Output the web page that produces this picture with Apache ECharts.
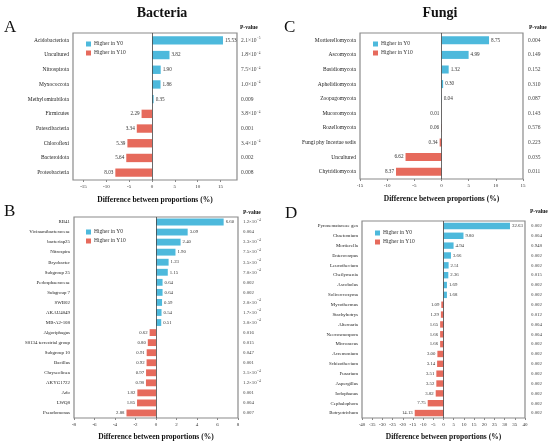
<!DOCTYPE html>
<html><head><meta charset="utf-8">
<script src="https://cdn.jsdelivr.net/npm/echarts@6/dist/echarts.min.js"></script>
<style>html,body{margin:0;padding:0;background:#fff}#c{width:550px;height:443px}</style>
</head><body><div id="c"></div>
<script>
// ---- Data ----
const aCats = ['Acidobacteriota','Uncultured','Nitrospirota','Myxococcota','Methylomirabilota','Firmicutes','Patescibacteria','Chloroflexi','Bacteroidota','Proteobacteria'];
const aVals = [15.53, 3.82, 1.90, 1.86, 0.35, -2.29, -3.34, -5.39, -5.64, -8.03];
const aP = ['2.1×10^-5','1.8×10^-4','7.5×10^-4','1.0×10^-4','0.009','3.8×10^-4','0.001','3.4×10^-4','0.002','0.008'];

const bCats = ['RB41','Vicinamibacteraceae','bacteriap25','Nitrospira','Bryobacter','Subgroup 25','Pedosphaeraceae','Subgroup 7','SWB02','AKAU4049','MB-A2-108','Algoriphagus','S0134 terrestrial group','Subgroup 10','Bacillus','Chryseolinea','AKYG1722','Ado','LWQ8','Pseudomonas'];
const bVals = [6.60, 3.09, 2.40, 1.90, 1.23, 1.15, 0.64, 0.64, 0.59, 0.54, 0.51, -0.62, -0.80, -0.91, -0.92, -0.97, -0.98, -1.82, -1.85, -2.88];
const bP = ['1.2×10^-4','0.004','3.3×10^-4','7.5×10^-4','3.5×10^-4','7.0×10^-4','0.002','0.002','2.0×10^-4','1.7×10^-4','3.0×10^-4','0.016','0.015','0.047','0.001','3.1×10^-4','1.2×10^-4','0.001','0.004','0.007'];

const cCats = ['Mortierellomycota','Ascomycota','Basidiomycota','Aphelidiomycota','Zoopagomycota','Mucoromycota','Rozellomycota','Fungi phy Incertae sedis','Uncultured','Chytridiomycota'];
const cVals = [8.75, 4.99, 1.32, 0.30, 0.04, -0.01, -0.06, -0.34, -6.62, -8.37];
const cP = ['0.004','0.149','0.152','0.310','0.087','0.143','0.576','0.223','0.035','0.011'];

const dCats = ['Pyronemataceae gen','Chaetomium','Mortierella','Enterocarpus','Leucothecium','Cheilymenia','Ascobolus','Solicoccozyma','Mycothermus','Stachybotrys','Alternaria','Neocosmospora','Microascus','Acremonium','Schizothecium','Fusarium','Aspergillus','Iodophanus','Cephalophora','Botryotrichum'];
const dVals = [32.63, 9.80, 4.94, 3.66, 2.51, 2.36, 1.69, 1.68, -1.09, -1.29, -1.65, -1.66, -1.66, -3.00, -3.14, -3.51, -3.52, -3.82, -7.75, -14.13];
const dP = ['0.002','0.004','0.948','0.002','0.002','0.015','0.002','0.002','0.002','0.012','0.004','0.004','0.002','0.002','0.002','0.002','0.002','0.002','0.002','0.002'];

const abTicks = [-15,-10,-5,0,5,10,15];
const seriesNames = ['Higher in Y0','Higher in Y10'];

// ---- Styling ----
const FONT = 'Liberation Serif';
const BLUE = '#4DB9DC';
const RED = '#E66A5C';

function pFmt(s){
  const m = s.match(/^(.*)\^(-?\d+)$/);
  if(!m) return '{n|'+s+'}';
  return '{n|'+m[1]+'}{s|'+m[2].replace('-','−')+'}';
}

const option = {animation:false, grid:[], xAxis:[], yAxis:[], series:[], legend:[], graphic:[]};

function panel(cfg){
  const gi = option.grid.length;
  option.grid.push({left:cfg.left, top:cfg.top, width:cfg.width, height:cfg.height,
    show:true, borderColor:'#8a8a8a', borderWidth:1.2, backgroundColor:'#fff'});
  const xa = {type:'value', gridIndex:gi, min:cfg.min, max:cfg.max,
    splitLine:{show:false}, axisLine:{show:false},
    axisTick:{show:true, length:2, lineStyle:{color:'#888'}},
    axisLabel:{fontFamily:FONT, fontSize:5, color:'#333', margin:4},
    name:'Difference between proportions (%)', nameLocation:'middle', nameGap:cfg.nameGap,
    nameTextStyle:{fontFamily:FONT, fontWeight:'bold', fontSize:7.5, color:'#111'}};
  if(cfg.custom){ xa.axisLabel.customValues = cfg.custom; xa.axisTick.customValues = cfg.custom; }
  else xa.interval = cfg.interval;
  option.xAxis.push(xa);
  option.yAxis.push({type:'category', gridIndex:gi, data:cfg.cats, inverse:true,
    axisLine:{show:false}, axisTick:{show:false},
    axisLabel:{fontFamily:FONT, fontSize:cfg.fs, color:'#222', margin:cfg.lm, interval:0}});
  option.yAxis.push({type:'category', gridIndex:gi, data:cfg.pv, inverse:true, position:'right',
    axisLine:{show:false}, axisTick:{show:false},
    axisLabel:{interval:0, margin:cfg.rm, color:'#444', align:'left',
      formatter:(v)=>pFmt(v),
      rich:{n:{fontFamily:FONT, fontSize:cfg.fs, color:'#444', verticalAlign:'middle', lineHeight:7},
            s:{fontFamily:FONT, fontSize:3.4, color:'#444', verticalAlign:'top', lineHeight:7, padding:[0,0,0,0.3]}}}});
  const yi = option.yAxis.length - 2;
  const lab = {show:true, fontFamily:FONT, fontSize:cfg.vfs, color:'#333', distance:2,
    formatter:(p)=>Math.abs(p.value).toFixed(2)};
  option.series.push({type:'bar', name:seriesNames[0], xAxisIndex:gi, yAxisIndex:yi,
    data:cfg.vals.map(v=>v>0?v:'-'), itemStyle:{color:BLUE}, barWidth:cfg.bw, barGap:'-100%',
    label:Object.assign({position:'right'}, lab),
    markLine:{silent:true, symbol:['none','none'], label:{show:false},
      lineStyle:{color:'#444', width:0.8, type:'solid'}, data:[{xAxis:0}]}});
  option.series.push({type:'bar', name:seriesNames[1], xAxisIndex:gi, yAxisIndex:yi,
    data:cfg.vals.map(v=>v<0?v:'-'), itemStyle:{color:RED}, barWidth:cfg.bw, barGap:'-100%',
    label:Object.assign({position:'left'}, lab)});
  option.legend.push({data:seriesNames, orient:'vertical', left:cfg.lgx, top:cfg.lgy,
    icon:'rect', itemWidth:5, itemHeight:5, itemGap:3, selectedMode:false,
    textStyle:{fontFamily:FONT, fontSize:5.5, color:'#333', padding:[0,0,0,-2]}});
  option.graphic.push({type:'text', left:cfg.phx, top:cfg.phy,
    style:{text:'P-value', fontFamily:FONT, fontWeight:'bold', fontSize:5.5, fill:'#111'}});
  option.graphic.push({type:'text', left:cfg.letx, top:cfg.lety,
    style:{text:cfg.letter, fontFamily:FONT, fontSize:17, fill:'#111'}});
}

panel({letter:'A', cats:aCats, vals:aVals, pv:aP, left:73, top:33, width:164, height:147,
  min:-17.3, max:18.6, custom:abTicks, nameGap:16, fs:5.5, vfs:5.2, lm:4, rm:4, bw:'57%',
  lgx:81, lgy:36, phx:240, phy:25, letx:4, lety:19});
panel({letter:'C', cats:cCats, vals:cVals, pv:cP, left:360, top:33, width:163, height:146,
  min:-15, max:15, interval:5, nameGap:16, fs:5.5, vfs:5.2, lm:4, rm:5, bw:'55%',
  lgx:368, lgy:36, phx:529, phy:25, letx:284, lety:19});
panel({letter:'B', cats:bCats, vals:bVals, pv:bP, left:74, top:217, width:164, height:201,
  min:-8, max:8, interval:2, nameGap:15, fs:4.9, vfs:4.8, lm:4, rm:5, bw:'68%',
  lgx:81, lgy:224, phx:243, phy:210, letx:4, lety:203});
panel({letter:'D', cats:dCats, vals:dVals, pv:dP, left:362, top:221, width:163, height:197,
  min:-40, max:40, interval:5, nameGap:15, fs:4.9, vfs:4.8, lm:4, rm:6, bw:'65%',
  lgx:370, lgy:225, phx:530, phy:209, letx:285, lety:205});

option.title = [
  {text:'Bacteria', left:157, top:1, textAlign:'center', textStyle:{fontFamily:FONT, fontWeight:'bold', fontSize:14, color:'#111'}},
  {text:'Fungi', left:435, top:1, textAlign:'center', textStyle:{fontFamily:FONT, fontWeight:'bold', fontSize:14, color:'#111'}}
];

const chart = echarts.init(document.getElementById('c'), null, {renderer:'canvas'});
chart.setOption(option);
</script></body></html>
